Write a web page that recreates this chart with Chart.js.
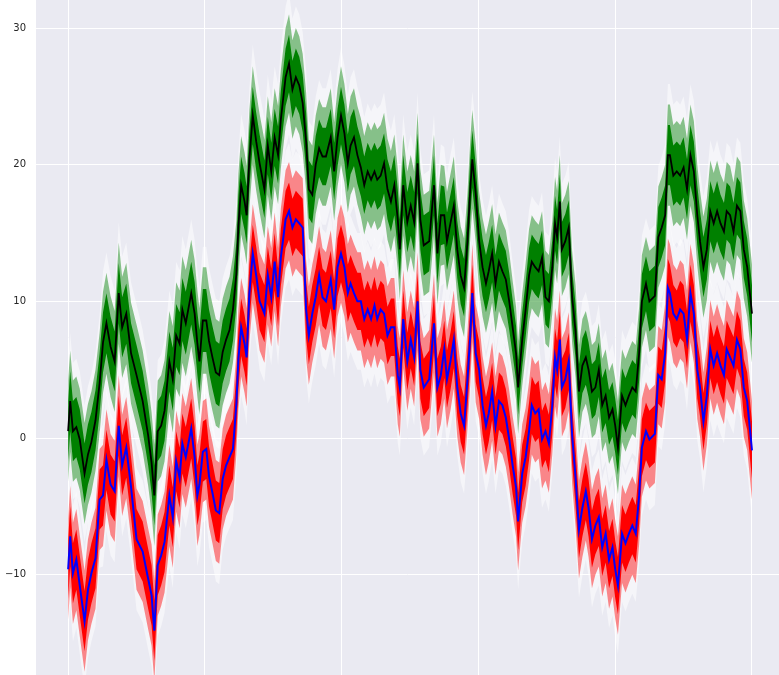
<!DOCTYPE html>
<html><head><meta charset="utf-8">
<script src="https://cdn.jsdelivr.net/npm/chart.js@4"></script>
<style>html,body{margin:0;padding:0;background:#fff;overflow:hidden}#wrap{width:779px;height:675px}</style>
</head><body><div id="wrap"><canvas id="c" width="779" height="675"></canvas></div>
<script>
const xs = [0,3,7,12,17,24,29,34,40,46,51,56,62,68,74,79,85,92,100,109,117,122,126,131,136,
141,148,153,158,163,167,172,180,185,189,192,197,202,206,211,216,221,226,231,236,241,246,249,253,258,261,265,270,275,280,287,292,297,302,307,311,
318,323,328,333,338,343,348,352,357,362,367,372,377,384,389,394,399,404,409,413,418,423,428,433,438,443,448,452,457,462,467,472,477,482,485,490,
496,501,506,511,515,520,528,535,540,545,550,554,559,564,569,574,579,584,588,591,596,601,606,611,615,620,625,630,635,640,645,650,655,658,664,669,
674,678,683,688,693,698,703,708,712,715,719,722,727,732,737,742,747,752,757,761,766,771,776,781,786,791,796,800,804,810,815,820,825,830,835,839,845,850,
858,863,868,873,877,880,885,890,895,900,905,910,915,920,924,929,934,939,944,949,954,959,963,968,973,978,983,988,993,1000];

const blackY = [0.5,2.7,0.5,0.8,-0.1,-2.6,-1.2,-0.3,1.3,4.0,7.0,8.4,6.7,5.6,10.6,8.1,9.1,6.2,4.6,2.7,0.2,-1.8,-4.2,0.5,0.9,
2.0,5.6,4.3,7.5,6.9,9.4,8.4,10.6,9.1,6.9,5.6,8.6,8.6,7.1,5.9,4.8,4.6,6.3,7.2,7.9,9.4,12.0,15.5,18.5,17.3,16.3,20.4,23.6,21.7,20.1,18.2,21.4,19.5,22.0,20.7,23.3,
26.4,27.4,25.5,26.4,25.8,24.5,21.7,18.2,17.8,20.0,21.2,20.6,20.6,22.0,19.5,22.0,23.6,22.3,20.1,21.4,22.0,20.7,19.8,18.5,19.5,18.9,19.5,18.9,19.2,20.1,18.2,17.3,18.5,16.0,13.8,18.5,
15.8,17.0,15.8,20.1,16.0,14.1,14.4,18.5,13.5,16.3,16.3,14.4,15.7,17.0,13.8,11.9,11.0,14.4,18.2,20.4,17.9,14.4,12.5,11.3,12.2,13.5,11.3,12.9,12.2,11.6,10.0,8.1,6.2,3.7,7.2,9.4,
11.9,12.9,12.5,12.2,13.2,10.3,10.0,12.5,15.7,14.7,17.3,13.8,14.4,15.4,10.3,7.8,3.4,5.3,5.9,5.0,3.4,3.7,5.0,2.4,3.1,1.5,2.1,0.9,-0.7,3.1,2.4,3.1,3.7,3.4,6.2,10.0,11.3,10.0,
10.4,14.7,15.4,16.3,20.7,20.7,19.2,19.5,19.2,19.8,18.2,20.7,19.5,16.3,14.4,12.5,13.8,16.6,15.7,16.6,15.7,15.1,16.6,16.3,15.1,17.0,16.6,13.8,12.5,9.1];

const blueY = [-9.6,-7.2,-9.9,-8.9,-10.8,-13.4,-11.1,-9.9,-8.8,-4.5,-4.2,-1.6,-3.4,-3.9,0.9,-2.0,-0.7,-3.6,-7.4,-8.3,-10.3,-11.5,-14.1,-9.3,-8.6,
-7.6,-4.2,-5.8,-1.7,-2.9,-0.4,-1.4,0.7,-1.4,-4.2,-3.4,-1.0,-0.8,-2.8,-4.0,-5.3,-5.5,-3.0,-2.0,-1.4,-0.8,2.5,5.8,8.1,6.9,5.9,10.6,13.5,11.9,10.0,9.1,11.9,10.3,12.9,10.3,13.2,
16.0,16.6,15.4,16.0,15.7,15.4,9.4,7.5,9.1,10.3,11.9,10.3,10.0,11.6,9.4,12.5,13.5,12.5,10.6,11.3,10.6,10.0,10.0,8.7,9.4,8.7,9.7,8.7,9.4,9.1,7.5,8.1,8.1,4.6,3.7,8.7,
5.6,7.2,5.9,10.0,5.0,3.7,4.3,8.4,3.7,4.6,6.5,4.3,5.6,7.2,3.7,1.8,0.9,4.3,7.5,10.6,6.2,5.0,2.4,0.9,1.8,3.4,0.9,2.7,2.4,1.5,-0.1,-2.0,-3.6,-6.1,-2.6,-1.4,
0.5,2.4,1.8,2.1,-0.1,0.5,-0.4,2.4,5.9,5.0,7.2,3.7,4.3,5.6,0.2,-2.9,-6.7,-5.1,-3.9,-5.1,-7.4,-6.4,-5.8,-8.0,-7.0,-8.9,-8.0,-9.6,-10.8,-7.0,-7.7,-7.0,-6.4,-7.0,-4.2,-0.7,0.5,-0.1,
0.3,4.6,4.3,6.2,11.0,10.6,9.1,8.7,9.4,9.1,7.2,10.6,9.1,5.0,3.7,1.2,3.1,6.5,5.3,6.2,5.3,4.6,6.5,5.9,5.3,7.2,6.5,3.7,2.7,-0.9];

// noise-band half widths (y units), one value per 100 x-units (x = 0,100,...,1000)
const whiteHalf1  = [5.0,5.2,5.4,5.2,5.0,5.2,5.0,4.8,4.8,5.2,5.0];
const greenOuter  = [3.7,3.7,3.9,3.6,3.6,3.7,3.6,3.4,3.4,3.7,3.6];
const greenCore   = [2.2,2.2,2.3,2.1,2.1,2.2,2.1,2.0,2.0,2.2,2.1];
const whiteHalf2  = [5.0,5.2,5.2,5.0,5.0,5.0,5.0,5.0,5.0,5.2,5.0];
const redOuter    = [3.7,3.7,3.7,3.6,3.6,3.6,3.6,3.6,3.6,3.6,3.6];
const redCore     = [2.2,2.2,2.2,2.1,2.1,2.1,2.1,2.1,2.1,2.1,2.1];

const xTickValues = [0,200,400,600,800,1000];
const yTickValues = [-10,0,10,20,30];

function pts(arr){ return xs.map((x,i)=>({x:x, y:arr[i]})); }
function band(arr, half, sign){ return xs.map((x,i)=>({x:x, y:arr[i] + sign*half[Math.round(x/100)]})); }

const datasets = [];
function addBand(center, half, color, order){
  const idx = datasets.length;
  datasets.push({data: band(center, half, 1), fill: idx + 1, backgroundColor: color,
    borderColor:'rgba(0,0,0,0)', borderWidth:0, pointRadius:0, order: order});
  datasets.push({data: band(center, half, -1), fill: false,
    borderColor:'rgba(0,0,0,0)', borderWidth:0, pointRadius:0, order: order});
}
addBand(blackY, whiteHalf1, 'rgba(255,255,255,0.5)', 20);
addBand(blackY, greenOuter, 'rgba(0,128,0,0.45)', 19);
addBand(blackY, greenCore,  'rgba(0,128,0,1)',   17);
datasets.push({data: pts(blackY), borderColor:'#000000', borderWidth:1.8, pointRadius:0, fill:false, order:16});
addBand(blueY, whiteHalf2, 'rgba(255,255,255,0.5)', 15);
addBand(blueY, redOuter,  'rgba(255,0,0,0.45)', 14);
addBand(blueY, redCore,   'rgba(255,0,0,1)',   12);
datasets.push({data: pts(blueY), borderColor:'#0000ff', borderWidth:2, pointRadius:0, fill:false, order:11});

const bgPlugin = {
  id:'bg',
  beforeDraw(chart){
    const a = chart.chartArea, ctx = chart.ctx;
    ctx.save(); ctx.fillStyle = '#EAEAF2';
    ctx.fillRect(a.left, a.top, a.right - a.left, a.bottom - a.top);
    ctx.restore();
  }
};

new Chart(document.getElementById('c'), {
  type: 'line',
  data: {datasets: datasets},
  plugins: [bgPlugin],
  options: {
    responsive: false, animation: false, devicePixelRatio: 1,
    layout: {padding: 0},
    plugins: {legend:{display:false}, tooltip:{enabled:false}, filler:{drawTime:'beforeDatasetDraw'}},
    elements: {point:{radius:0}, line:{tension:0}},
    scales: {
      x: {
        type:'linear', min:-47, max:1039.5,
        ticks:{display:false},
        grid:{color:'#ffffff', lineWidth:1, drawTicks:false},
        border:{display:false},
        afterBuildTicks: s => { s.ticks = xTickValues.map(v => ({value:v})); },
        afterFit: s => { s.height = 0; s.paddingLeft = 0; s.paddingRight = 0; s.paddingTop = 0; s.paddingBottom = 0; }
      },
      y: {
        type:'linear', min:-17.34, max:32.05,
        ticks:{padding:10, color:'#262626', font:{family:'DejaVu Sans', size:10},
          callback: v => v < 0 ? '\u2212' + Math.abs(v) : String(v)},
        grid:{color:'#ffffff', lineWidth:1, drawTicks:false},
        border:{display:false},
        afterBuildTicks: s => { s.ticks = yTickValues.map(v => ({value:v})); },
        afterFit: s => { s.width = 36; s.paddingTop = 0; s.paddingBottom = 0; }
      }
    }
  }
});
</script></body></html>
